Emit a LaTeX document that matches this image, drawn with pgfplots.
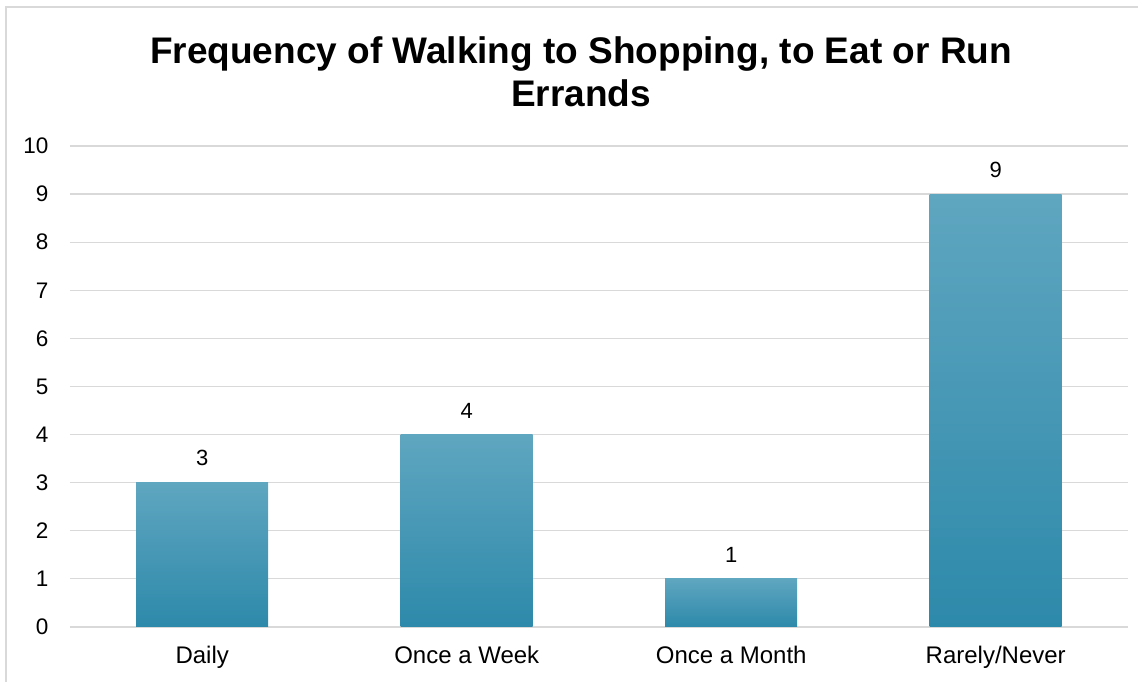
\documentclass[border=0pt]{standalone}
\usepackage{pgfplots}
\pgfplotsset{compat=1.18}
\usepackage{fontspec}
\setmainfont{Liberation Sans}
\definecolor{gridc}{RGB}{217,217,217}
\definecolor{bartop}{RGB}{95,166,192}
\definecolor{barmid}{RGB}{62,158,191}
\definecolor{barbot}{RGB}{45,137,170}
\begin{document}
\begin{tikzpicture}[x=1pt,y=1pt]
\useasboundingbox (0,0) rectangle (1138,682);
\draw[gridc, line width=1.5pt] (6,675) rectangle (1150,-20);
\node[font=\fontsize{37}{43}\selectfont\bfseries, align=center] at (581,610) {Frequency of Walking to Shopping, to Eat or Run\\Errands};
\begin{axis}[at={(70pt,55pt)}, anchor=south west, scale only axis,
  width=1058pt, height=481pt,
  xmin=-0.5, xmax=3.5, ymin=0, ymax=10,
  ytick={0,...,10}, xtick={0,1,2,3},
  xticklabels={Daily, Once a Week, Once a Month, Rarely/Never},
  axis line style={draw=none},
  ymajorgrids, grid style={gridc, line width=1.2pt},
  major tick length=0pt,
  /pgf/number format/assume math mode=true,
  yticklabel style={font=\fontsize{22.5}{26}\selectfont, xshift=-18pt},
  xticklabel style={font=\fontsize{24}{28}\selectfont, yshift=-16pt},
  ybar, bar width=132pt, bar shift=0pt,
  nodes near coords,
  nodes near coords style={font=\fontsize{22}{26}\selectfont, text=black, yshift=13pt},
  barsty/.style={draw=none, top color=bartop, middle color=barmid, bottom color=barbot},
]
\addplot[barsty] coordinates {(0,3)};
\addplot[barsty] coordinates {(1,4)};
\addplot[barsty] coordinates {(2,1)};
\addplot[barsty] coordinates {(3,9)};
\end{axis}
\end{tikzpicture}
\end{document}
